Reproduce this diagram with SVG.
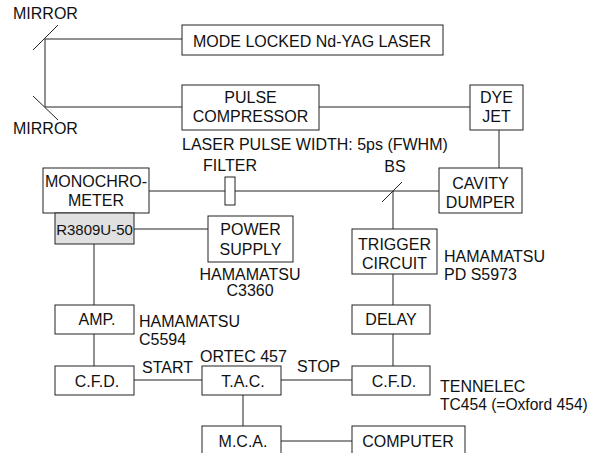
<svg xmlns="http://www.w3.org/2000/svg" width="602" height="453" viewBox="0 0 602 453">
<style>
text{font-family:"Liberation Sans",Arial,Helvetica,sans-serif;font-size:16px;fill:#111}
.c{text-anchor:middle}
.s{font-size:15px}
.t{font-size:15.6px}
rect{fill:#fff;stroke:#222;stroke-width:1}
.g{fill:#e0e0e0}
line,path{stroke:#222;stroke-width:1;fill:none}
</style>
<rect x="0" y="0" width="602" height="453" style="fill:#fff;stroke:none"/>
<g id="connectors">
<line x1="45" y1="39" x2="182" y2="39"/>
<line x1="45" y1="39" x2="45" y2="107"/>
<line x1="45" y1="107" x2="182" y2="107"/>
<line x1="319" y1="107" x2="470" y2="107"/>
<line x1="499" y1="130" x2="499" y2="168"/>
<line x1="149" y1="191" x2="225" y2="191"/>
<line x1="235" y1="191" x2="439" y2="191"/>
<line x1="393" y1="191" x2="393" y2="229"/>
<line x1="134" y1="229" x2="208" y2="229"/>
<line x1="94" y1="244" x2="94" y2="305"/>
<line x1="393" y1="274" x2="393" y2="305"/>
<line x1="94" y1="334" x2="94" y2="366"/>
<line x1="393" y1="334" x2="393" y2="366"/>
<line x1="134" y1="380" x2="202" y2="380"/>
<line x1="281" y1="380" x2="352" y2="380"/>
<line x1="243" y1="395" x2="243" y2="426"/>
<line x1="281" y1="441" x2="352" y2="441"/>
</g>
<g id="mirror-top">
<line x1="33" y1="50" x2="58" y2="25"/>
<text x="13" y="19">MIRROR</text>
</g>
<g id="mirror-bottom">
<line x1="33" y1="96" x2="58" y2="120"/>
<text x="13" y="134">MIRROR</text>
</g>
<g id="laser">
<rect x="182" y="25" width="261" height="30"/>
<text class="c" x="312" y="47">MODE LOCKED Nd-YAG LASER</text>
</g>
<g id="compressor">
<rect x="182" y="85" width="137" height="45"/>
<text class="c" x="250.5" y="103">PULSE</text>
<text class="c" x="250.5" y="122">COMPRESSOR</text>
<text x="182" y="150">LASER PULSE WIDTH: 5ps (FWHM)</text>
</g>
<g id="dyejet">
<rect x="470" y="85" width="53" height="45"/>
<text class="c" x="496.5" y="103">DYE</text>
<text class="c" x="496.5" y="122">JET</text>
</g>
<g id="monochrometer">
<rect x="43" y="168" width="106" height="45"/>
<text class="c" x="96" y="187">MONOCHRO-</text>
<text class="c" x="96" y="206">METER</text>
</g>
<g id="filter">
<rect x="225" y="177" width="10" height="28"/>
<text class="c" x="230" y="171">FILTER</text>
</g>
<g id="bs">
<line x1="382" y1="202" x2="402" y2="182"/>
<text class="c" x="395" y="172">BS</text>
</g>
<g id="cavity">
<rect x="439" y="168" width="83" height="45"/>
<text class="c" x="480.5" y="189">CAVITY</text>
<text class="c" x="480.5" y="208">DUMPER</text>
</g>
<g id="pmt">
<rect class="g" x="55" y="213" width="79" height="31"/>
<text class="c s" x="94.5" y="235">R3809U-50</text>
</g>
<g id="powersupply">
<rect x="208" y="216" width="85" height="46"/>
<text class="c" x="250.5" y="235">POWER</text>
<text class="c" x="250.5" y="255">SUPPLY</text>
<text class="c" x="250" y="280">HAMAMATSU</text>
<text class="c" x="250" y="296">C3360</text>
</g>
<g id="trigger">
<rect x="352" y="229" width="85" height="45"/>
<text class="c" x="394.5" y="250">TRIGGER</text>
<text class="c" x="394.5" y="269">CIRCUIT</text>
<text x="444" y="262">HAMAMATSU</text>
<text x="444" y="280">PD S5973</text>
</g>
<g id="amp">
<rect x="55" y="305" width="79" height="29"/>
<text class="c" x="97" y="325">AMP.</text>
<text x="139" y="327">HAMAMATSU</text>
<text x="139" y="345">C5594</text>
</g>
<g id="delay">
<rect x="352" y="305" width="78" height="29"/>
<text class="c" x="391" y="325">DELAY</text>
</g>
<g id="cfd-left">
<rect x="55" y="366" width="79" height="29"/>
<text class="c" x="97" y="387">C.F.D.</text>
<text x="142" y="373">START</text>
</g>
<g id="tac">
<rect x="202" y="366" width="79" height="29"/>
<text class="c" x="243" y="387">T.A.C.</text>
<text x="200" y="362">ORTEC 457</text>
</g>
<g id="cfd-right">
<rect x="352" y="366" width="78" height="29"/>
<text class="c" x="394" y="387">C.F.D.</text>
<text x="297" y="372">STOP</text>
<text x="440" y="392">TENNELEC</text>
<text class="t" x="440" y="410">TC454 (=Oxford 454)</text>
</g>
<g id="mca">
<rect x="202" y="426" width="79" height="40"/>
<text class="c" x="243" y="447">M.C.A.</text>
</g>
<g id="computer">
<rect x="352" y="426" width="113" height="40"/>
<text class="c" x="408" y="447">COMPUTER</text>
</g>
</svg>
